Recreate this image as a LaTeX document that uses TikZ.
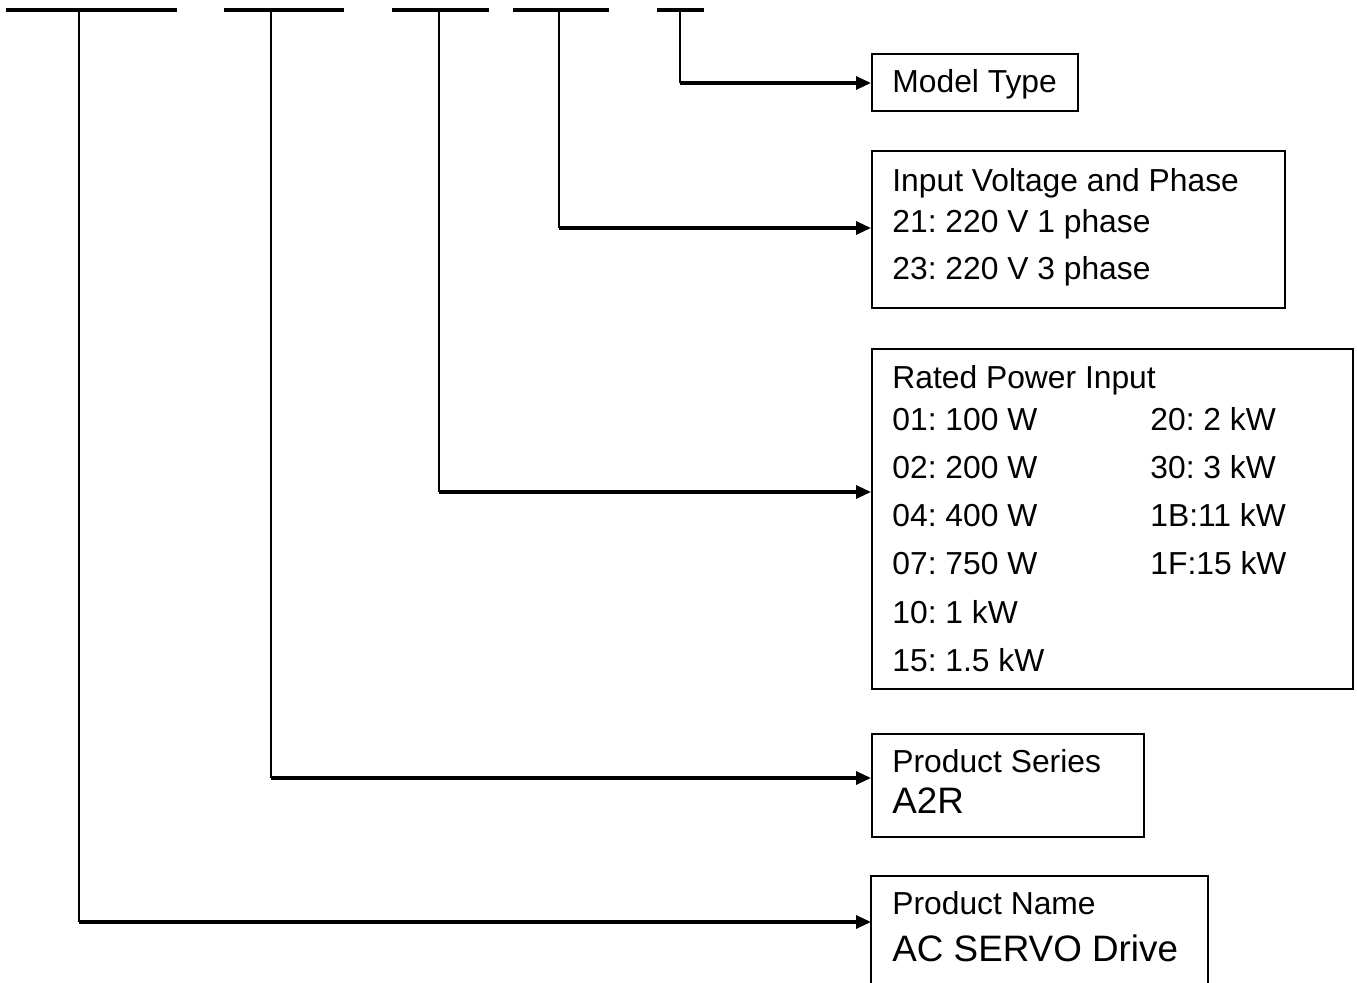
\documentclass[tikz,border=0pt]{standalone}
\usepackage{fontspec}
\setmainfont{Liberation Sans}
\usetikzlibrary{arrows.meta}
\frenchspacing
\begin{document}
\begin{tikzpicture}[x=0.5pt,y=-0.5pt,
  bar/.style={line width=2pt},
  lead/.style={line width=1.1pt},
  conn/.style={line width=1.6pt,-{Triangle[length=7.5pt,width=6.5pt]}},
  box/.style={draw,line width=1pt,rectangle,inner sep=0pt,anchor=north west},
  txt/.style={anchor=base west,inner sep=0pt,font=\fontsize{15.9}{18}\selectfont},
  bigtxt/.style={anchor=base west,inner sep=0pt,font=\fontsize{18.4}{22}\selectfont}]
\clip (0,0) rectangle (1357,983);
% top bars
\draw[bar] (6,10) -- (177,10);
\draw[bar] (224,10) -- (344,10);
\draw[bar] (392,10) -- (489,10);
\draw[bar] (513,10) -- (609,10);
\draw[bar] (657,10) -- (704,10);
\coordinate (t1) at (79,10);
\coordinate (t2) at (271,10);
\coordinate (t3) at (439,10);
\coordinate (t4) at (559,10);
\coordinate (t5) at (680,10);
% boxes
\node[box,minimum width=103pt,minimum height=28.5pt] (mt) at (871,53) {};
\node[box,minimum width=206.5pt,minimum height=78.5pt] (iv) at (871,150) {};
\node[box,minimum width=240.5pt,minimum height=170pt] (rp) at (871,348) {};
\node[box,minimum width=136pt,minimum height=51.5pt] (ps) at (871,733) {};
\draw[line width=1pt] (871,1000) -- (871,876) -- (1208,876) -- (1208,1000);
\coordinate (pn) at (871,922);
% texts
\node[txt] (mtT) at (892,93) {Model Type};
\node[txt] (ivT) at (892,192) {Input Voltage and Phase};
\node[txt] (iv1) at (892,233) {21: 220 V 1 phase};
\node[txt] (iv2) at (892,280) {23: 220 V 3 phase};
\node[txt] (rpT) at (892,389) {Rated Power Input};
\node[txt] (r1) at (892,431) {01: 100 W};
\node[txt] (r2) at (892,479) {02: 200 W};
\node[txt] (r3) at (892,527) {04: 400 W};
\node[txt] (r4) at (892,575) {07: 750 W};
\node[txt] (r5) at (892,624) {10: 1 kW};
\node[txt] (r6) at (892,672) {15: 1.5 kW};
\node[txt] (r7) at (1150,431) {20: 2 kW};
\node[txt] (r8) at (1150,479) {30: 3 kW};
\node[txt] (r9) at (1150,527) {1B:11 kW};
\node[txt] (r10) at (1150,575) {1F:15 kW};
\node[txt] (psT) at (892,773) {Product Series};
\node[bigtxt] (psV) at (892,814) {A2R};
\node[txt] (pnT) at (892,915) {Product Name};
\node[bigtxt] (pnV) at (892,962) {AC SERVO Drive};
% leads and connectors
\draw[lead] (t5) -- (t5 |- 0,83);
\draw[conn] (t5 |- 0,83) -- (mt.west |- 0,83);
\draw[lead] (t4) -- (t4 |- 0,228);
\draw[conn] (t4 |- 0,228) -- (iv.west |- 0,228);
\draw[lead] (t3) -- (t3 |- 0,492);
\draw[conn] (t3 |- 0,492) -- (rp.west |- 0,492);
\draw[lead] (t2) -- (t2 |- 0,778);
\draw[conn] (t2 |- 0,778) -- (ps.west |- 0,778);
\draw[lead] (t1) -- (t1 |- 0,922);
\draw[conn] (t1 |- 0,922) -- (pn);
\end{tikzpicture}
\end{document}
